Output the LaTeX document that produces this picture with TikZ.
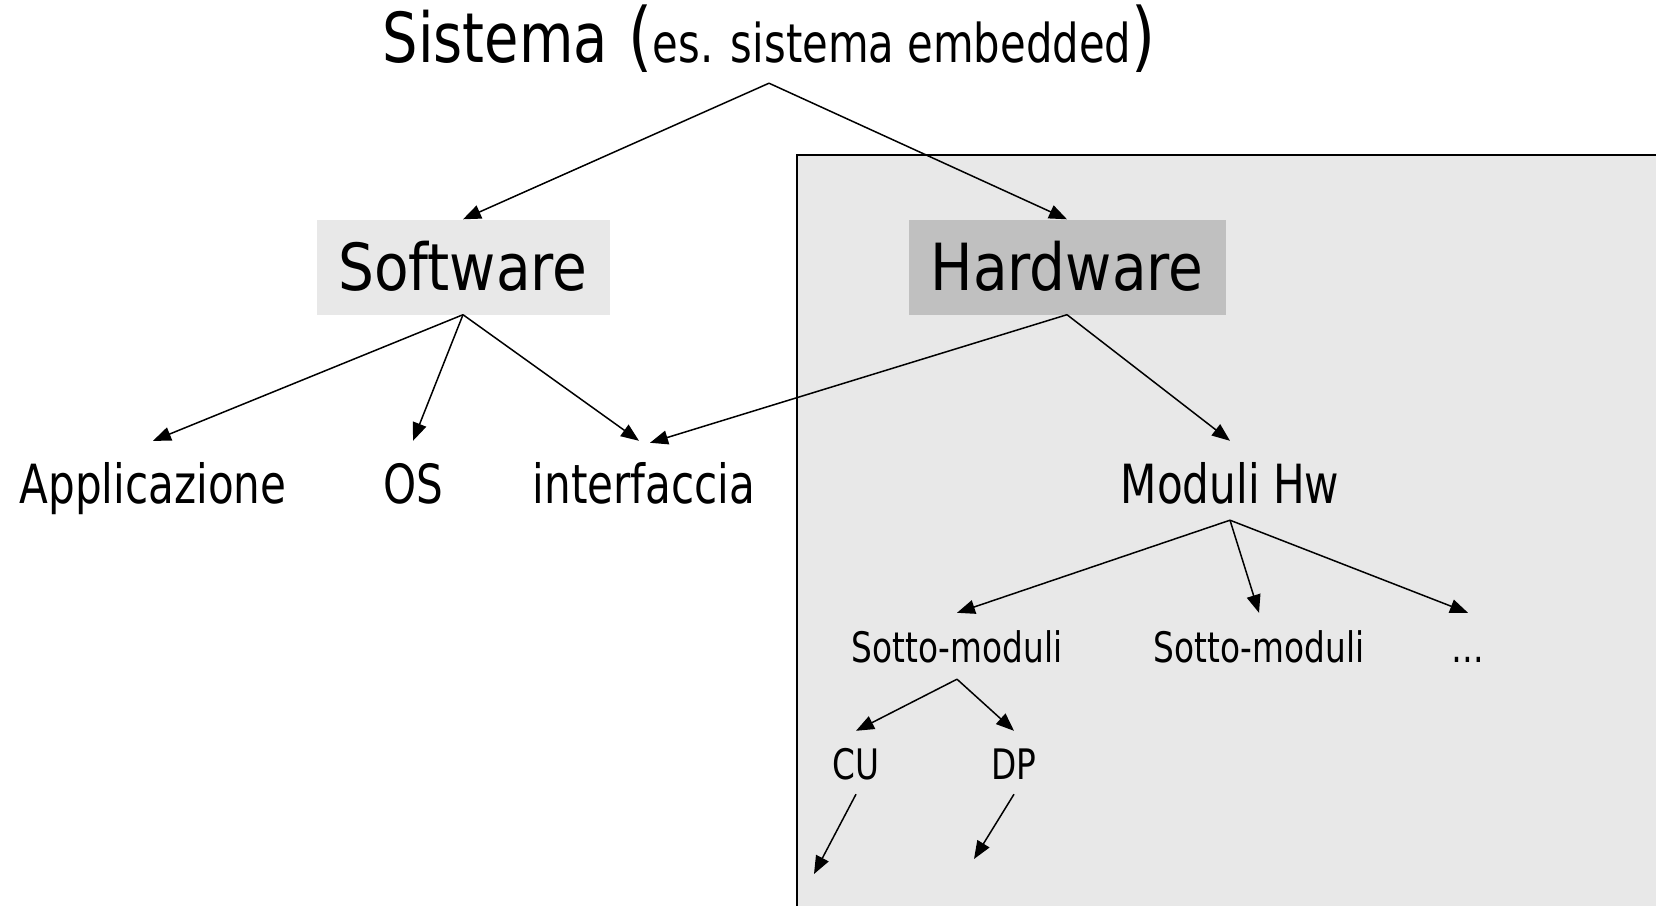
\documentclass[tikz,border=0pt]{standalone}
\usepackage{fontspec}
\setmainfont{DejaVu Sans}[FakeStretch=0.78]
\newfontfamily\widefont{DejaVu Sans}[FakeStretch=0.87]
\newfontfamily\titlefont{DejaVu Sans}[FakeStretch=0.81]
\usetikzlibrary{arrows.meta,calc}

\tikzset{
  link/.style={line width=1.5pt, -{Triangle[length=18pt,width=14pt]}},
  bigbox/.style={inner sep=0pt, minimum height=95pt,
    font=\widefont\fontsize{65}{70}\selectfont, text height=47pt, text depth=0pt},
  lvlone/.style={inner sep=0pt, text height=62pt, text depth=17pt,
    font=\fontsize{54}{60}\selectfont},
  lvltwo/.style={inner sep=0pt, text height=49pt, text depth=17pt,
    font=\fontsize{42}{48}\selectfont},
  lvlthree/.style={inner sep=0pt, text height=48pt, text depth=15pt,
    font=\fontsize{42}{48}\selectfont},
}

\begin{document}
\begin{tikzpicture}[x=1pt, y=-1pt]
\useasboundingbox (0,0) rectangle (1656,905);

% shaded hardware area
\draw[line width=1.4pt, fill={rgb,255:red,232;green,232;blue,232}] (797,155) rectangle (1700,950);

% title
\node[inner sep=0pt, anchor=base, text depth=21pt] (sys) at (769,62)
  {{\titlefont\fontsize{69}{72}\selectfont Sistema\hspace{3pt} }{\titlefont\fontsize{76}{80}\selectfont (}{\fontsize{53.5}{60}\selectfont es. sistema embedded}{\titlefont\fontsize{76}{80}\selectfont )}};

% main blocks
\node[bigbox, minimum width=293pt, fill={rgb,255:red,232;green,232;blue,232}] (sw) at (463,267) {Software};
\node[bigbox, minimum width=317pt, fill={rgb,255:red,192;green,192;blue,192}] (hw) at (1067,267) {Hardware};

% first level
\node[lvlone, anchor=base] (app) at (153,503) {Applicazione};
\node[lvlone, anchor=base] (os) at (413,503) {OS};
\node[lvlone, anchor=base] (intf) at (644,503) {interfaccia};
\node[lvlone, anchor=base] (mod) at (1230,503) {Moduli Hw};

% second level
\node[lvltwo, anchor=base] (sm1) at (957,662) {Sotto-moduli};
\node[lvltwo, anchor=base] (sm2) at (1259,662) {Sotto-moduli};
\node[lvltwo, anchor=base] (etc) at (1468,662) {…};

% third level
\node[lvlthree, anchor=base] (cu) at (856,779) {CU};
\node[lvlthree, anchor=base] (dp) at (1014,779) {DP};
\coordinate (cuend) at (814,874);
\coordinate (dpend) at (974,859);

% connectors
\draw[link] (sys.south) -- (sw.north);
\draw[link] (sys.south) -- (hw.north);
\draw[link] (sw.south) -- (app.north);
\draw[link] (sw.south) -- (os.north);
\draw[link] (sw.south) -- ([xshift=-5pt]intf.north);
\draw[link] (hw.south) -- ([xshift=6pt,yshift=-2pt]intf.north);
\draw[link] (hw.south) -- (mod.north);
\draw[link] (mod.south) -- (sm1.north);
\draw[link] (mod.south) -- (sm2.north);
\draw[link] (mod.south) -- (etc.north);
\draw[link] (sm1.south) -- (cu.north);
\draw[link] (sm1.south) -- (dp.north);
\draw[link] (cu.south) -- (cuend);
\draw[link] (dp.south) -- (dpend);
\end{tikzpicture}
\end{document}
